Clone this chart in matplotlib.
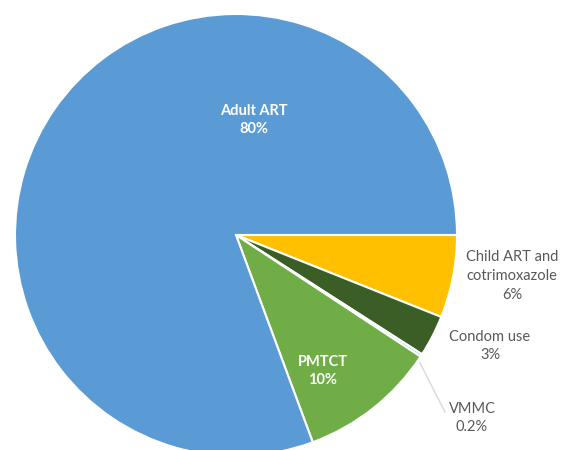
import matplotlib
matplotlib.use("Agg")
import matplotlib.pyplot as plt

# spending shares, drawn clockwise from 3 o'clock
labels = ["Child ART and\ncotrimoxazole", "Condom use", "VMMC", "PMTCT", "Adult ART"]
shares = [6, 3, 0.2, 10, 80]
pct_text = ["6%", "3%", "0.2%", "10%", "80%"]
colors = ["#FFC000", "#3A5E25", "#9DC3E6", "#70AD47", "#5B9BD5"]

plt.rcParams["font.family"] = ["Lato", "DejaVu Sans"]

fig = plt.figure(figsize=(5.78, 4.5), dpi=100)
ax = fig.add_axes([0, 0, 1, 1])

ax.pie(shares, colors=colors, startangle=0, counterclock=False,
       center=(236, 215), radius=221,
       wedgeprops=dict(edgecolor="white", linewidth=1.5))
ax.set_xlim(0, 578)
ax.set_ylim(0, 450)
ax.set_aspect("equal")
ax.set_axis_off()

# labels inside the two large slices
ax.text(254, 330, f"{labels[4]}\n{pct_text[4]}", color="white", fontsize=10.5,
        fontweight="bold", ha="center", va="center", linespacing=1.45)
ax.text(323, 79, f"{labels[3]}\n{pct_text[3]}", color="white", fontsize=10.5,
        fontweight="bold", ha="center", va="center", linespacing=1.45)

# outside labels
grey = "#595959"
ax.text(512, 174, f"{labels[0]}\n{pct_text[0]}", color=grey, fontsize=10.5,
        ha="center", va="center", linespacing=1.45)
ax.text(490, 104, f"{labels[1]}\n{pct_text[1]}", color=grey, fontsize=10.5,
        ha="center", va="center", linespacing=1.45)
ax.text(472, 32, f"{labels[2]}\n{pct_text[2]}", color=grey, fontsize=10.5,
        ha="center", va="center", linespacing=1.45)
ax.plot([420, 445], [87, 38], color="#D9D9D9", linewidth=1)

fig.savefig("out.png", dpi=100)
